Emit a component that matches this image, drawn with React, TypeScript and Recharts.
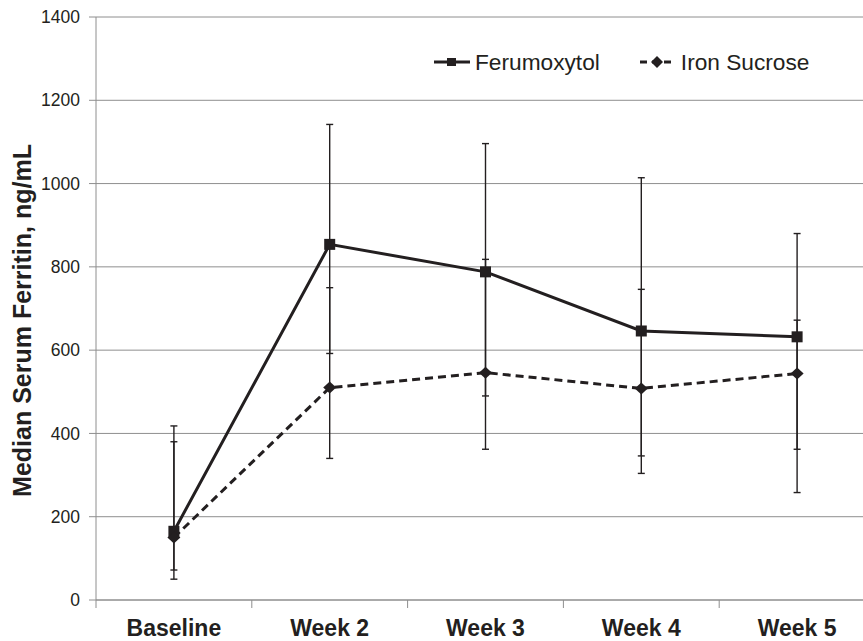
import { LineChart, Line, XAxis, YAxis, CartesianGrid, ErrorBar } from "recharts";

const categories = ["Baseline", "Week 2", "Week 3", "Week 4", "Week 5"];
const ferumoxytol = [165, 854, 788, 646, 632];
const ferumoxytolLow = [50, 592, 490, 304, 362];
const ferumoxytolHigh = [418, 1142, 1096, 1014, 880];
const ironSucrose = [150, 510, 546, 508, 544];
const ironSucroseLow = [72, 340, 362, 346, 258];
const ironSucroseHigh = [380, 750, 818, 746, 672];
const yTicks = [0, 200, 400, 600, 800, 1000, 1200, 1400];

const INK = "#231f20";
const GRID = "#8e8e8e";
const FONT = "'Liberation Sans', Arial, Helvetica, sans-serif";

const data = categories.map((name, i) => ({
  name,
  fer: ferumoxytol[i],
  ferErr: [ferumoxytol[i] - ferumoxytolLow[i], ferumoxytolHigh[i] - ferumoxytol[i]],
  iron: ironSucrose[i],
  ironErr: [ironSucrose[i] - ironSucroseLow[i], ironSucroseHigh[i] - ironSucrose[i]],
}));

const HALF_BAND = 77.9;

const XTick = (props: any) => {
  const { x, y, payload, index } = props;
  return (
    <g>
      <line x1={x - HALF_BAND} y1={y - 8} x2={x - HALF_BAND} y2={y} stroke={GRID} />
      {index === categories.length - 1 && (
        <line x1={x + HALF_BAND} y1={y - 8} x2={x + HALF_BAND} y2={y} stroke={GRID} />
      )}
      <text x={x} y={y + 28} textAnchor="middle" fill={INK} fontSize={23} fontWeight="bold" fontFamily={FONT}>
        {payload.value}
      </text>
    </g>
  );
};

const SquareDot = (props: any) => {
  const { cx, cy, index } = props;
  return <rect key={`sq-${index}`} x={cx - 5.5} y={cy - 5.5} width={11} height={11} fill={INK} />;
};

const DiamondDot = (props: any) => {
  const { cx, cy, index } = props;
  return (
    <polygon
      key={`dm-${index}`}
      points={`${cx},${cy - 6} ${cx + 6.5},${cy} ${cx},${cy + 6} ${cx - 6.5},${cy}`}
      fill={INK}
    />
  );
};

const YTitle = (props: any) => {
  const { viewBox } = props;
  const cy = viewBox.y + viewBox.height / 2 + 12;
  return (
    <text
      x={22}
      y={cy}
      transform={`rotate(-90 22 ${cy})`}
      textAnchor="middle"
      dominantBaseline="central"
      fill={INK}
      fontSize={25}
      fontWeight="bold"
      fontFamily={FONT}
    >
      Median Serum Ferritin, ng/mL
    </text>
  );
};

const LegendBox = () => (
  <div
    style={{
      position: "absolute",
      top: 47,
      left: 434,
      display: "flex",
      alignItems: "center",
      fontFamily: FONT,
      fontSize: 22.7,
      color: INK,
      lineHeight: "30px",
    }}
  >
    <svg width={36} height={12} style={{ marginRight: 5 }}>
      <line x1={0} y1={6} x2={36} y2={6} stroke={INK} strokeWidth={3} />
      <rect x={13} y={2} width={9} height={8} fill={INK} />
    </svg>
    <span style={{ marginRight: 40 }}>Ferumoxytol</span>
    <svg width={33} height={14} style={{ marginRight: 8 }}>
      <line x1={0} y1={7} x2={33} y2={7} stroke={INK} strokeWidth={3} strokeDasharray="7 5" />
      <polygon points="17,1 23,7 17,13 11,7" fill={INK} />
    </svg>
    <span>Iron Sucrose</span>
  </div>
);

export default function App() {
  return (
    <div style={{ position: "fixed", left: 0, top: 0, width: 863, height: 641, overflow: "hidden", background: "#fff" }}>
      <LineChart width={890} height={641} data={data} margin={{ top: 17, right: 15, left: 0, bottom: 0 }}>
        <CartesianGrid vertical={false} stroke={GRID} strokeWidth={1} />
        <XAxis
          dataKey="name"
          height={41}
          padding={{ left: HALF_BAND, right: HALF_BAND }}
          axisLine={{ stroke: GRID }}
          tickLine={false}
          tickSize={8}
          tickMargin={0}
          interval={0}
          tick={<XTick />}
        />
        <YAxis
          width={96}
          domain={[0, 1400]}
          ticks={yTicks}
          interval={0}
          axisLine={{ stroke: GRID }}
          tickLine={{ stroke: GRID }}
          tickSize={7}
          tickMargin={9}
          tick={{ fill: INK, fontSize: 17.5, fontFamily: FONT }}
          label={<YTitle />}
        />
        <Line
          dataKey="fer"
          name="Ferumoxytol"
          stroke={INK}
          strokeWidth={3}
          dot={SquareDot}
          activeDot={false}
          isAnimationActive={false}
        >
          <ErrorBar dataKey="ferErr" width={3.5} stroke={INK} strokeWidth={1.4} isAnimationActive={false} />
        </Line>
        <Line
          dataKey="iron"
          name="Iron Sucrose"
          stroke={INK}
          strokeWidth={3}
          strokeDasharray="8 5"
          dot={DiamondDot}
          activeDot={false}
          isAnimationActive={false}
        >
          <ErrorBar dataKey="ironErr" width={3.5} stroke={INK} strokeWidth={1.4} isAnimationActive={false} />
        </Line>
      </LineChart>
      <LegendBox />
    </div>
  );
}
